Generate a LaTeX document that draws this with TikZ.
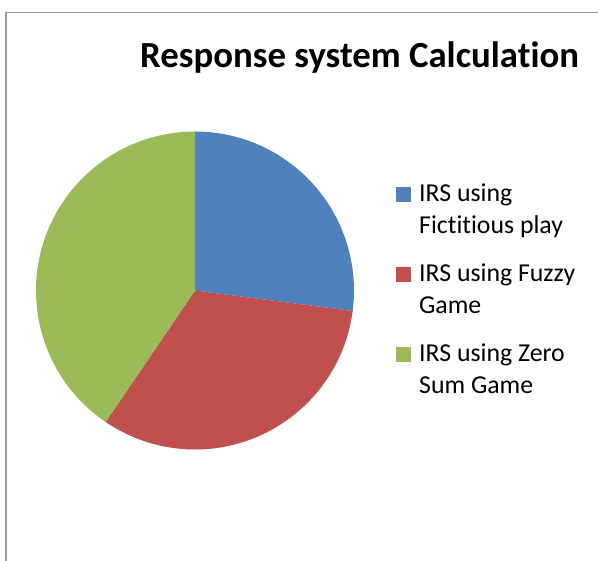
\documentclass[tikz,border=0pt]{standalone}
\usepackage{fontspec}
\setmainfont{Carlito}[Ligatures=NoCommon]
\usepackage{xcolor}
\usetikzlibrary{positioning}
\definecolor{irsblue}{HTML}{4F81BD}
\definecolor{irsred}{HTML}{C0504D}
\definecolor{irsgreen}{HTML}{9BBB59}
\definecolor{framegray}{HTML}{9A9A9A}
\tikzset{
	legendkey/.style={
			fill=#1, minimum size=15pt, inner sep=0pt, anchor=south west},
	legendtext/.style={
			anchor=base west, inner sep=0pt, align=left,
			font=\fontsize{25.8}{31.7}\selectfont}
}

\begin{document}
\begin{tikzpicture}[x=1pt, y=1pt]
			\useasboundingbox (0, 0) rectangle (598, 561);
			\draw[framegray, line width=2pt]	(6, 0) to (6, 549);
			\draw[framegray, line width=1.2pt]	(5, 548.5) to (598, 548.5);

			\node[anchor=base west, inner sep=0pt, font=\bfseries\fontsize{36.8}{40}\selectfont] (title) at (140, 493) {Response system Calculation};

			\coordinate (c) at (195, 270.5);
			\fill[irsblue]	(c) -- ++(90:159pt) arc[start angle=90, end angle=-7.4, radius=159pt] -- cycle;
			\fill[irsred]	(c) -- ++(-7.4:159pt) arc[start angle=-7.4, end angle=-124.2, radius=159pt] -- cycle;
			\fill[irsgreen]	(c) -- ++(-124.2:159pt) arc[start angle=-124.2, end angle=-270, radius=159pt] -- cycle;

			% legend: base anchor sits on the second line
			\node[legendkey=irsblue] (keyA) at (396, 359) {};
			\node[legendtext] (textA) at (419, 327.6) {IRS using\\Fictitious play};
			\node[legendkey=irsred] (keyB) at (396, 279) {};
			\node[legendtext] (textB) at (419, 247.6) {IRS using Fuzzy\\Game};
			\node[legendkey=irsgreen] (keyC) at (396, 199) {};
			\node[legendtext] (textC) at (419, 167.6) {IRS using Zero\\Sum Game};
		\end{tikzpicture}
\end{document}
